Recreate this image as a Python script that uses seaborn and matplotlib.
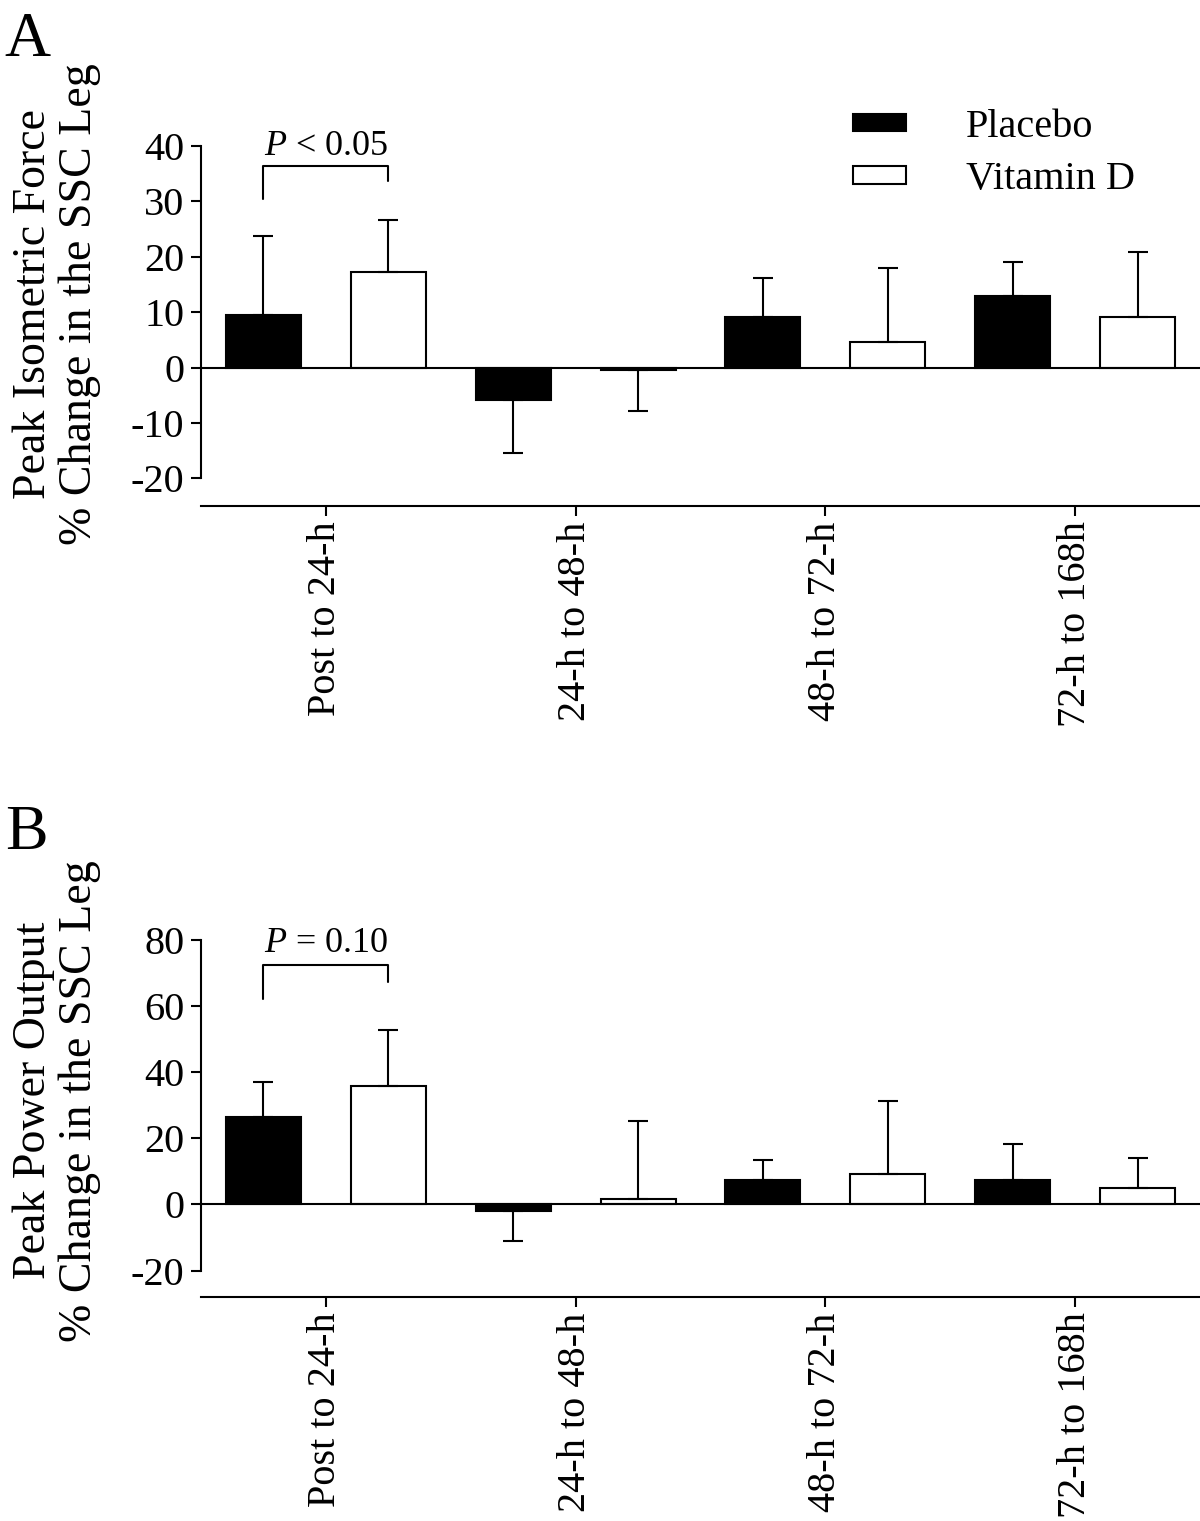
import pandas as pd
import matplotlib
matplotlib.use('Agg')
import matplotlib.pyplot as plt
from matplotlib.patches import Patch
import seaborn as sns

groups = ['Post to 24-h', '24-h to 48-h', '48-h to 72-h', '72-h to 168h']
treatments = ['Placebo', 'Vitamin D']

force_placebo = [9.4, -5.8, 9.1, 13.0]
force_placebo_sd = [14.4, 9.7, 7.0, 6.0]
force_vitd = [17.3, -0.5, 4.7, 9.1]
force_vitd_sd = [9.4, 7.4, 13.2, 11.7]

power_placebo = [26.5, -2.1, 7.3, 7.3]
power_placebo_sd = [10.6, 9.1, 6.2, 10.9]
power_vitd = [35.9, 1.5, 9.3, 5.0]
power_vitd_sd = [16.9, 23.8, 22.1, 9.2]

sns.set_style('ticks')
plt.rcParams['font.family'] = ['Liberation Serif']
plt.rcParams['mathtext.fontset'] = 'custom'
plt.rcParams['mathtext.rm'] = 'Liberation Serif'
plt.rcParams['mathtext.it'] = 'Liberation Serif:italic'
for k in ['text.color', 'axes.labelcolor', 'xtick.color', 'ytick.color', 'axes.edgecolor']:
    plt.rcParams[k] = 'black'

FS = 29


def make_df(pl, pl_sd, vd, vd_sd):
    rows = []
    for g, v, s in zip(groups, pl, pl_sd):
        rows.append({'Group': g, 'Treatment': 'Placebo', 'Value': v, 'SD': s})
    for g, v, s in zip(groups, vd, vd_sd):
        rows.append({'Group': g, 'Treatment': 'Vitamin D', 'Value': v, 'SD': s})
    return pd.DataFrame(rows)


def panel(ax, df, ylim, yticks, ylabel, bracket, ptext):
    sns.barplot(data=df, x='Group', y='Value', hue='Treatment', order=groups,
                hue_order=treatments, palette=['black', 'white'], saturation=1,
                edgecolor='black', linewidth=1.5, width=1.0, gap=0.4,
                errorbar=None, legend=False, ax=ax)
    # one-sided error bars, pointing away from zero
    centers = {}
    for cont, tr in zip(ax.containers, treatments):
        sub = df[df['Treatment'] == tr].set_index('Group').loc[groups]
        xs = [p.get_x() + p.get_width() / 2 for p in cont.patches]
        centers[tr] = xs
        vals = sub['Value'].values
        sds = sub['SD'].values
        lower = [s if v < 0 else 0 for v, s in zip(vals, sds)]
        upper = [0 if v < 0 else s for v, s in zip(vals, sds)]
        ax.errorbar(xs, vals, yerr=[lower, upper], fmt='none', ecolor='black',
                    elinewidth=1.5, capsize=7.5, capthick=1.5, zorder=1)
    ax.axhline(0, color='black', lw=1.5, zorder=3)
    ax.set_xlim(-0.5, 3.5)
    ax.set_ylim(*ylim)
    ax.set_yticks(yticks)
    ax.set_yticklabels([str(t) for t in yticks])
    ax.spines['left'].set_bounds(yticks[0], yticks[-1])
    sns.despine(ax=ax)
    for s in ['left', 'bottom']:
        ax.spines[s].set_linewidth(1.5)
    ax.tick_params(axis='both', labelsize=FS, width=1.5, length=7, color='black')
    ax.tick_params(axis='y', pad=5)
    ax.tick_params(axis='x', pad=4)
    ax.set_xticks(range(len(groups)))
    ax.set_xticklabels(groups, rotation=90, va='top', ha='center')
    ax.set_xlabel('')
    ax.set_ylabel(ylabel, fontsize=33, linespacing=1.1)
    # significance bracket
    x0 = centers['Placebo'][0]
    x1 = centers['Vitamin D'][0]
    yl, yr, yt, ytxt = bracket
    ax.plot([x0, x0, x1, x1], [yl, yt, yt, yr], color='black', lw=1.5, clip_on=False)
    ax.text((x0 + x1) / 2, ytxt, ptext, fontsize=26, ha='center', va='baseline')


fig = plt.figure(figsize=(12, 15.21), dpi=100)
axA = fig.add_axes([201 / 1200, 1 - 506 / 1521, 999 / 1200, (506 - 146) / 1521])
axB = fig.add_axes([201 / 1200, 1 - 1297 / 1521, 999 / 1200, (1297 - 940) / 1521])

dfA = make_df(force_placebo, force_placebo_sd, force_vitd, force_vitd_sd)
dfB = make_df(power_placebo, power_placebo_sd, power_vitd, power_vitd_sd)

panel(axA, dfA, (-25, 40), [-20, -10, 0, 10, 20, 30, 40],
      'Peak Isometric Force\n% Change in the SSC Leg',
      (30.5, 33.6, 36.3, 38.4), r'$P$ < 0.05')
panel(axB, dfB, (-28, 80), [-20, 0, 20, 40, 60, 80],
      'Peak Power Output\n% Change in the SSC Leg',
      (62.1, 67.3, 72.4, 76.3), r'$P$ = 0.10')

axA.yaxis.set_label_coords(-0.100, 0.56)
axB.yaxis.set_label_coords(-0.100, 0.55)

handles = [Patch(facecolor='black', edgecolor='black', linewidth=1.5),
           Patch(facecolor='white', edgecolor='black', linewidth=1.5)]
fig.legend(handles, treatments, loc='upper left',
           bbox_to_anchor=(833 / 1200, 1 - 89 / 1521), frameon=False,
           fontsize=FS, borderpad=0, handlelength=1.3, handleheight=0.3,
           handletextpad=1.5, labelspacing=0.38)

fig.text(0.004, 1 - 12 / 1521, 'A', fontsize=46, va='top', ha='left')
fig.text(0.004, 1 - 805 / 1521, 'B', fontsize=46, va='top', ha='left')

fig.savefig('out.png', dpi=100)
